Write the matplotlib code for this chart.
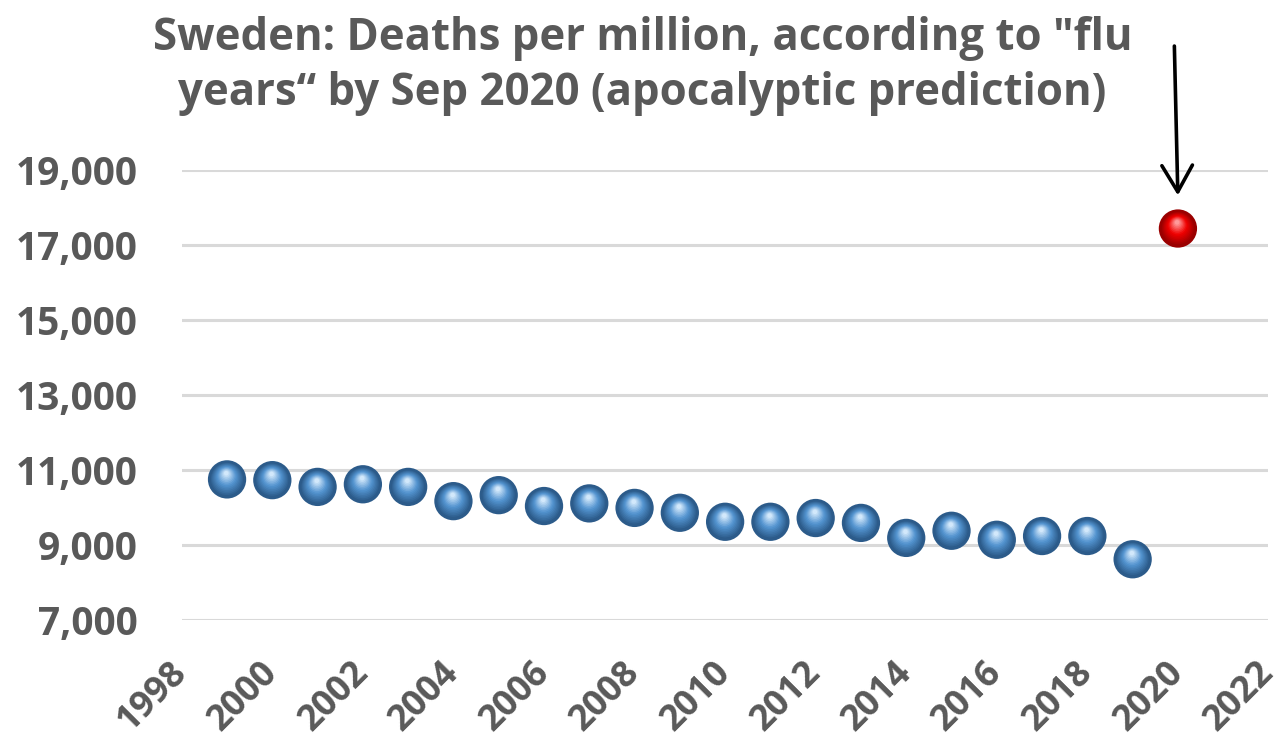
import matplotlib
matplotlib.use("Agg")
import matplotlib.pyplot as plt
import matplotlib.transforms as mtransforms
from matplotlib.colors import to_rgb
from matplotlib.ticker import FuncFormatter
import numpy as np

plt.rcParams['font.family'] = ['Open Sans', 'DejaVu Sans']
plt.rcParams['font.weight'] = 'bold'

# deaths per million, by flu year
years = [1999, 2000, 2001, 2002, 2003, 2004, 2005, 2006, 2007, 2008, 2009,
         2010, 2011, 2012, 2013, 2014, 2015, 2016, 2017, 2018, 2019]
deaths = [10750, 10730, 10550, 10620, 10550, 10170, 10330, 10040, 10110, 9990, 9860,
          9620, 9620, 9720, 9590, 9190, 9380, 9140, 9240, 9240, 8620]
pred_year = [2020]
pred_deaths = [17440]

title = 'Sweden: Deaths per million, according to "flu\nyears\u201c by Sep 2020 (apocalyptic prediction)'
text_col = '#595959'
grid_col = '#d9d9d9'


def mix(c1, c2, t):
    a, b = np.array(to_rgb(c1)), np.array(to_rgb(c2))
    return tuple(a + (b - a) * t)


def spheres(ax, x, y, dark, mid, light, size=760, n=14):
    # fake 3D ball: dark rim, then lighter discs shifted toward the top
    fig = ax.figure
    ax.scatter(x, y, s=size, color=dark, edgecolors='none', zorder=3)
    r = np.sqrt(size) / 2
    for i, f in enumerate(np.linspace(0, 1, n)):
        shrink = 0.9 - 0.78 * f
        off = mtransforms.ScaledTranslation(-0.04 * f * r / 72, 0.32 * f * r / 72, fig.dpi_scale_trans)
        if f < 0.5:
            col = mix(dark, mid, f * 2)
        else:
            col = mix(mid, light, (f - 0.5) * 2)
        ax.scatter(x, y, s=size * shrink ** 2, color=col, edgecolors='none',
                   zorder=4 + i, transform=ax.transData + off)


fig = plt.figure(figsize=(12.8, 7.5), dpi=100)
ax = fig.add_axes([0.142, 0.1733, 0.849, 0.6])

spheres(ax, years, deaths, '#2c5b8a', '#5394d0', '#d2e8fb')
spheres(ax, pred_year, pred_deaths, '#9a0000', '#f00000', '#ff9a9a')

ax.set_xlim(1998, 2022)
ax.set_ylim(7000, 19000)
ax.set_xticks(np.arange(1998, 2023, 2))
ax.set_yticks(np.arange(7000, 19001, 2000))
ax.yaxis.set_major_formatter(FuncFormatter(lambda v, p: f'{v:,.0f}'))

ax.grid(axis='y', color=grid_col, linewidth=2.2)
ax.set_axisbelow(True)
for s in ax.spines.values():
    s.set_visible(False)
ax.tick_params(axis='both', length=0, colors=text_col)
ax.tick_params(axis='y', labelsize=28, pad=32)
ax.tick_params(axis='x', labelsize=26, pad=34)
for lab in ax.get_xticklabels():
    lab.set_rotation(45)
    lab.set_ha('right')
    lab.set_va('center')
    lab.set_rotation_mode('anchor')
for lab in ax.get_yticklabels() + ax.get_xticklabels():
    lab.set_fontweight('bold')

ax.annotate('', xy=(2020, 18250), xytext=(2019.92, 22380),
            arrowprops=dict(arrowstyle='->,head_length=1.9,head_width=1.1',
                            color='black', lw=2.6),
            annotation_clip=False)

fig.text(0.502, 0.912, title, ha='center', va='center', fontsize=31.5,
         fontweight='bold', color=text_col, linespacing=1.3)

fig.savefig('out.png', dpi=100, facecolor='white')
